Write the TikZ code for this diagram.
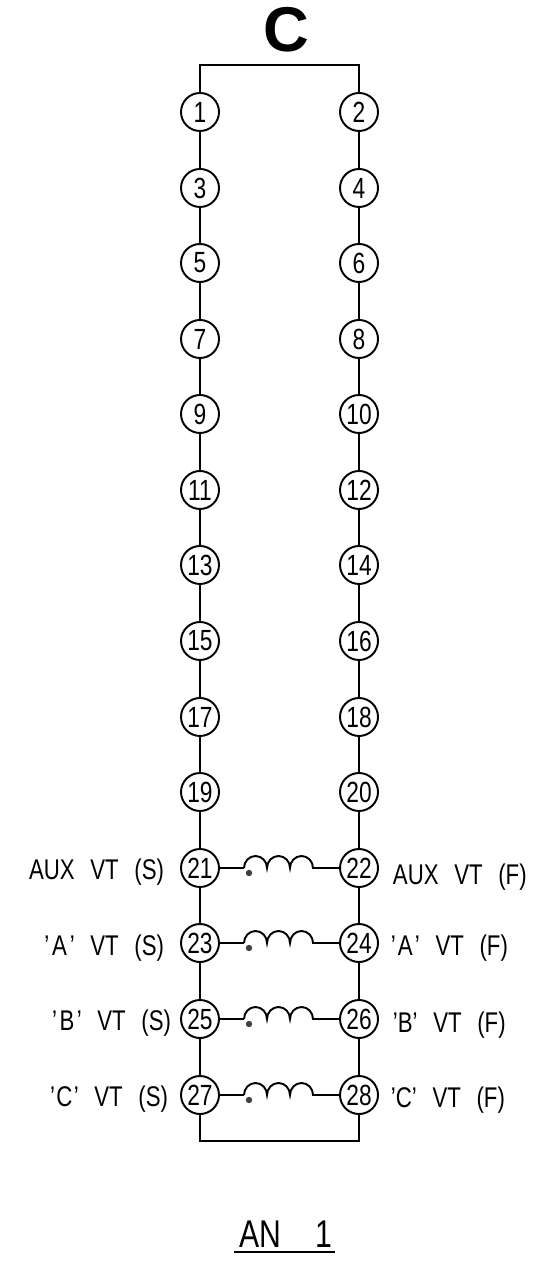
\documentclass[tikz,border=0pt]{standalone}
\usepackage{fontspec}
\setmainfont{Liberation Sans}
\newfontfamily\cadfont[FakeStretch=0.78]{Liberation Sans}
\usepackage{tikz}
\tikzset{
	term/.style={draw,circle,fill=white,minimum size=0.38cm,inner sep=0,font=\cadfont\fontsize{8.3}{8}\selectfont},
	vtlabel/.style={inner sep=0,font=\cadfont\fontsize{8.1}{9}\selectfont},
	wire/.style={line width=0.55pt},
}
\begin{document}
\begin{tikzpicture}[wire]
		\useasboundingbox (0,0) rectangle (5.41,-12.8);
		\newcommand{\coil}[2]{\draw (#1) arc[start angle=180,end angle=0,x radius=0.115,y radius=0.12] arc[start angle=180,end angle=0,x radius=0.115,y radius=0.12] arc[start angle=180,end angle=0,x radius=0.115,y radius=0.12] -- (#2);}
		\newcommand{\vs}{\hspace{0.55em}}
		\node[font=\bfseries\fontsize{18}{18}\selectfont,inner sep=0] (title) at (2.86,-0.295) {C};
		\coordinate (topl) at (2,-0.65); %top bar
		\coordinate (topr) at (3.59,-0.65);
		\coordinate (botl) at (2,-11.41); %bottom bar
		\coordinate (botr) at (3.59,-11.41);
		\node[term] (t1) at (2,-1.12) {1}; %left column
		\node[term] (t3) at (2,-1.88) {3};
		\node[term] (t5) at (2,-2.63) {5};
		\node[term] (t7) at (2,-3.39) {7};
		\node[term] (t9) at (2,-4.14) {9};
		\node[term] (t11) at (2,-4.90) {11};
		\node[term] (t13) at (2,-5.65) {13};
		\node[term] (t15) at (2,-6.41) {15};
		\node[term] (t17) at (2,-7.17) {17};
		\node[term] (t19) at (2,-7.92) {19};
		\node[term] (t21) at (2,-8.68) {21};
		\node[term] (t23) at (2,-9.43) {23};
		\node[term] (t25) at (2,-10.19) {25};
		\node[term] (t27) at (2,-10.95) {27};
		\node[term] (t2) at (3.59,-1.12) {2}; %right column
		\node[term] (t4) at (3.59,-1.88) {4};
		\node[term] (t6) at (3.59,-2.63) {6};
		\node[term] (t8) at (3.59,-3.39) {8};
		\node[term] (t10) at (3.59,-4.14) {10};
		\node[term] (t12) at (3.59,-4.90) {12};
		\node[term] (t14) at (3.59,-5.65) {14};
		\node[term] (t16) at (3.59,-6.41) {16};
		\node[term] (t18) at (3.59,-7.17) {18};
		\node[term] (t20) at (3.59,-7.92) {20};
		\node[term] (t22) at (3.59,-8.68) {22};
		\node[term] (t24) at (3.59,-9.43) {24};
		\node[term] (t26) at (3.59,-10.19) {26};
		\node[term] (t28) at (3.59,-10.95) {28};
		\draw (t1) -- (topl) -- (topr) -- (t2);
		\draw (t27) -- (botl) -- (botr) -- (t28);
		\draw (t1) -- (t3); \draw (t3) -- (t5); \draw (t5) -- (t7); \draw (t7) -- (t9); \draw (t9) -- (t11); \draw (t11) -- (t13); \draw (t13) -- (t15);
		\draw (t15) -- (t17); \draw (t17) -- (t19); \draw (t19) -- (t21); \draw (t21) -- (t23); \draw (t23) -- (t25); \draw (t25) -- (t27);
		\draw (t2) -- (t4); \draw (t4) -- (t6); \draw (t6) -- (t8); \draw (t8) -- (t10); \draw (t10) -- (t12); \draw (t12) -- (t14); \draw (t14) -- (t16);
		\draw (t16) -- (t18); \draw (t18) -- (t20); \draw (t20) -- (t22); \draw (t22) -- (t24); \draw (t24) -- (t26); \draw (t26) -- (t28);
		\coordinate (ca1) at (2.44,-8.68); %coils
		\coordinate (ca2) at (2.44,-9.43);
		\coordinate (ca3) at (2.44,-10.19);
		\coordinate (ca4) at (2.44,-10.95);
		\draw (t21) -- (ca1); \coil{ca1}{t22}
		\draw (t23) -- (ca2); \coil{ca2}{t24}
		\draw (t25) -- (ca3); \coil{ca3}{t26}
		\draw (t27) -- (ca4); \coil{ca4}{t28}
		\fill[black!75] (2.49,-8.73) circle (0.032); %dots
		\fill[black!75] (2.49,-9.48) circle (0.032);
		\fill[black!75] (2.49,-10.24) circle (0.032);
		\fill[black!75] (2.49,-11) circle (0.032);
		\node[vtlabel,anchor=east] (ls1) at (1.65,-8.72) {AUX\vs VT\vs (S)}; %left labels
		\node[vtlabel,anchor=east] (ls2) at (1.65,-9.48) {’\kern0.8pt A\kern0.8pt’\vs VT\vs (S)};
		\node[vtlabel,anchor=east] (ls3) at (1.72,-10.23) {’\kern0.7pt B\kern0.7pt’\vs VT\vs (S)};
		\node[vtlabel,anchor=east] (ls4) at (1.69,-10.99) {’\kern0.4pt C\kern0.4pt’\vs VT\vs (S)};
		\node[vtlabel,anchor=west] (lf1) at (3.92,-8.77) {AUX\vs VT\vs (F)}; %right labels
		\node[vtlabel,anchor=west] (lf2) at (3.90,-9.48) {’\kern0.6pt A\kern0.6pt’\vs VT\vs (F)};
		\node[vtlabel,anchor=west] (lf3) at (3.92,-10.25) {’B’\vs VT\vs (F)};
		\node[vtlabel,anchor=west] (lf4) at (3.90,-11) {’C’\vs VT\vs (F)};
		\node[inner sep=0,font=\cadfont\fontsize{11}{11}\selectfont] (an) at (2.86,-12.34) {AN\hspace{0.9em}1};
		\coordinate (ula) at (2.34,-12.52); %underline
		\coordinate (ulb) at (3.35,-12.52);
		\draw (ula) -- (ulb);
	\end{tikzpicture}
\end{document}
